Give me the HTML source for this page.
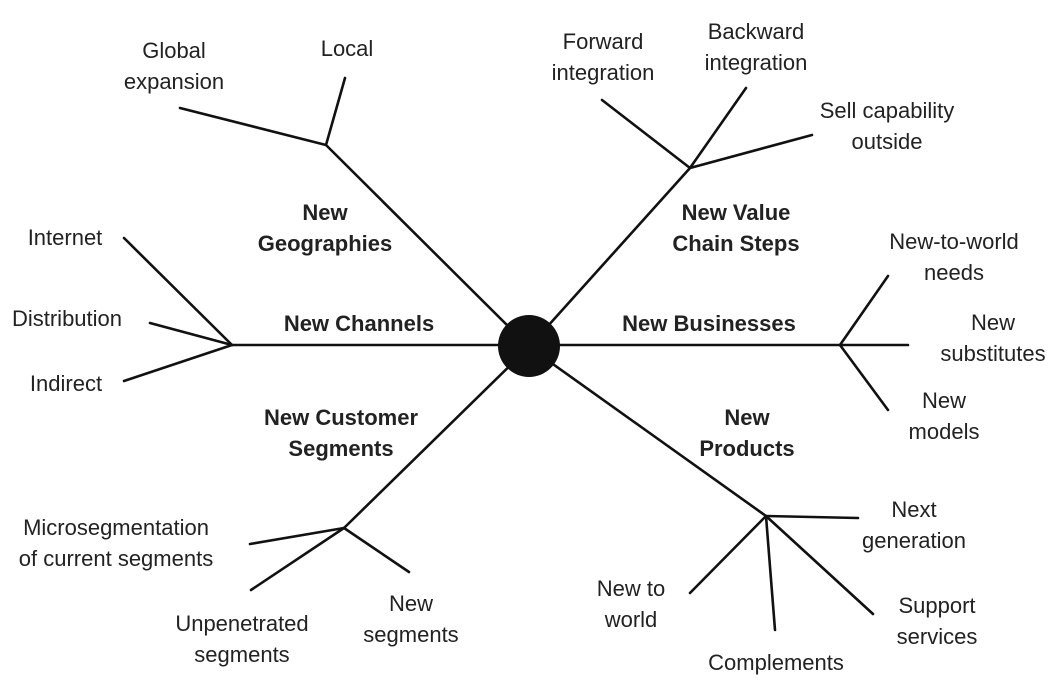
<!DOCTYPE html>
<html><head><meta charset="utf-8"><style>
html,body{margin:0;padding:0;background:#fff;}
svg{display:block;}
text{font-family:"Liberation Sans",sans-serif;font-size:22px;fill:#222;}
.b{font-weight:bold;}
</style></head><body>
<svg width="1064" height="684" viewBox="0 0 1064 684" xmlns="http://www.w3.org/2000/svg">
<g stroke="#111" stroke-width="2.6" fill="none" stroke-linecap="round">
<line x1="529" y1="347" x2="326" y2="145"/>
<line x1="326" y1="145" x2="180" y2="108"/>
<line x1="326" y1="145" x2="345" y2="78"/>
<line x1="529" y1="347" x2="690" y2="168"/>
<line x1="690" y1="168" x2="602" y2="100"/>
<line x1="690" y1="168" x2="746" y2="88"/>
<line x1="690" y1="168" x2="812" y2="135"/>
<line x1="529" y1="345" x2="232" y2="345"/>
<line x1="232" y1="345" x2="124" y2="238"/>
<line x1="232" y1="345" x2="150" y2="323"/>
<line x1="232" y1="345" x2="124" y2="381"/>
<line x1="529" y1="345" x2="840" y2="345"/>
<line x1="840" y1="345" x2="888" y2="276"/>
<line x1="840" y1="345" x2="908" y2="345"/>
<line x1="840" y1="345" x2="888" y2="410"/>
<line x1="529" y1="347" x2="344" y2="528"/>
<line x1="344" y1="528" x2="250" y2="544"/>
<line x1="344" y1="528" x2="251" y2="590"/>
<line x1="344" y1="528" x2="409" y2="572"/>
<line x1="529" y1="347" x2="766" y2="516"/>
<line x1="766" y1="516" x2="858" y2="518"/>
<line x1="766" y1="516" x2="690" y2="593"/>
<line x1="766" y1="516" x2="775" y2="630"/>
<line x1="766" y1="516" x2="873" y2="614"/>
</g>
<circle cx="529" cy="346" r="31" fill="#111"/>
<g text-anchor="middle">
<text x="174" y="58">Global</text><text x="174" y="89">expansion</text>
<text x="347" y="56">Local</text>
<text x="325" y="220" class="b">New</text><text x="325" y="251" class="b">Geographies</text>
<text x="603" y="49">Forward</text><text x="603" y="80">integration</text>
<text x="756" y="39">Backward</text><text x="756" y="70">integration</text>
<text x="887" y="118">Sell capability</text><text x="887" y="149">outside</text>
<text x="736" y="220" class="b">New Value</text><text x="736" y="251" class="b">Chain Steps</text>
<text x="954" y="249">New-to-world</text><text x="954" y="280">needs</text>
<text x="993" y="330">New</text><text x="993" y="361">substitutes</text>
<text x="944" y="408">New</text><text x="944" y="439">models</text>
<text x="709" y="331" class="b">New Businesses</text>
<text x="359" y="331" class="b">New Channels</text>
<text x="65" y="245">Internet</text>
<text x="67" y="326">Distribution</text>
<text x="66" y="391">Indirect</text>
<text x="341" y="425" class="b">New Customer</text><text x="341" y="456" class="b">Segments</text>
<text x="747" y="425" class="b">New</text><text x="747" y="456" class="b">Products</text>
<text x="116" y="535">Microsegmentation</text><text x="116" y="566">of current segments</text>
<text x="242" y="631">Unpenetrated</text><text x="242" y="662">segments</text>
<text x="411" y="611">New</text><text x="411" y="642">segments</text>
<text x="914" y="517">Next</text><text x="914" y="548">generation</text>
<text x="631" y="596">New to</text><text x="631" y="627">world</text>
<text x="937" y="613">Support</text><text x="937" y="644">services</text>
<text x="776" y="670">Complements</text>
</g>
</svg>
</body></html>
